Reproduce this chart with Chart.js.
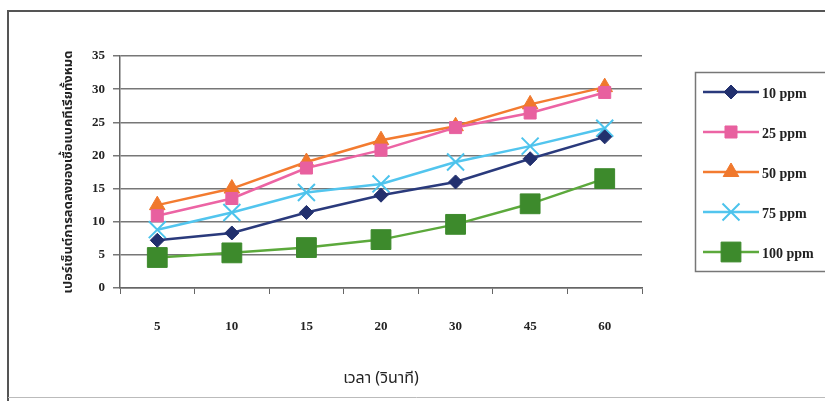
<!DOCTYPE html>
<html>
<head>
<meta charset="utf-8">
<script src="https://cdn.jsdelivr.net/npm/chart.js@4.4.1/dist/chart.umd.min.js"></script>
<style>
  html, body { margin: 0; padding: 0; background: #fff; }
  #wrap { width: 825px; height: 401px; position: relative; }
</style>
</head>
<body>
<div id="wrap"><canvas id="chart" width="825" height="401"></canvas></div>
<script>
// Data
const timeLabels = ['5', '10', '15', '20', '30', '45', '60'];
const ppm10 = [7.2, 8.3, 11.4, 14.0, 16.0, 19.5, 22.8];
const ppm25 = [10.9, 13.5, 18.1, 20.8, 24.2, 26.4, 29.5];
const ppm50 = [12.5, 15.0, 19.0, 22.3, 24.4, 27.7, 30.3];
const ppm75 = [8.8, 11.4, 14.4, 15.7, 19.0, 21.4, 24.1];
const ppm100 = [4.6, 5.3, 6.1, 7.3, 9.6, 12.7, 16.5];
const seriesNames = ['10 ppm', '25 ppm', '50 ppm', '75 ppm', '100 ppm'];

const xTitle = 'เวลา (วินาที)';
const yTitle = 'เปอร์เซ็นต์การลดลงของเชื้อแบคทีเรียทั้งหมด';

const SERIF = "'Liberation Serif', 'DejaVu Serif', serif";
const THAI = "'Noto Sans Thai', 'Noto Sans', 'DejaVu Sans', sans-serif";

function series(label, data, color, lineColor, style, radius, border) {
  return {
    label: label,
    data: data,
    borderColor: lineColor,
    backgroundColor: color,
    pointBackgroundColor: color,
    pointBorderColor: color,
    pointBorderWidth: border,
    pointStyle: style,
    pointRadius: radius,
    borderWidth: 2.5,
    tension: 0,
  };
}

const datasets = [
  series(seriesNames[0], ppm10, '#22306e', '#2a3a7c', 'rectRot', 7, 1),
  series(seriesNames[1], ppm25, '#e8609f', '#ec64a4', 'rect', 8.5, 1),
  series(seriesNames[2], ppm50, '#f0782c', '#f37b30', 'triangle', 9, 1),
  series(seriesNames[3], ppm75, '#4cc3ec', '#52c5ee', 'crossRot', 12, 2),
  series(seriesNames[4], ppm100, '#3d8a2c', '#5ca93c', 'rect', 14, 1),
];

// frame around the whole chart
const framePlugin = {
  id: 'frame',
  beforeDraw(chart) {
    const ctx = chart.ctx;
    ctx.save();
    ctx.fillStyle = '#fff';
    ctx.fillRect(0, 0, chart.width, chart.height);
    ctx.strokeStyle = '#555';
    ctx.lineWidth = 2;
    ctx.beginPath();
    ctx.moveTo(8, 401);
    ctx.lineTo(8, 11);
    ctx.lineTo(825, 11);
    ctx.stroke();
    ctx.strokeStyle = '#bbb';
    ctx.lineWidth = 1;
    ctx.beginPath();
    ctx.moveTo(8, 397.5);
    ctx.lineTo(825, 397.5);
    ctx.stroke();
    ctx.restore();
  }
};

// legend box: line with marker in the middle
const legendPlugin = {
  id: 'lineLegend',
  afterDraw(chart) {
    const ctx = chart.ctx;
    ctx.save();
    ctx.strokeStyle = '#777';
    ctx.lineWidth = 1.5;
    ctx.strokeRect(695.5, 72.5, 140, 199);
    chart.data.datasets.forEach((ds, i) => {
      const y = 92 + i * 40;
      ctx.strokeStyle = ds.borderColor;
      ctx.lineWidth = 2.5;
      ctx.beginPath();
      ctx.moveTo(703, y);
      ctx.lineTo(759, y);
      ctx.stroke();
      ctx.fillStyle = ds.pointBackgroundColor;
      ctx.strokeStyle = ds.pointBorderColor;
      ctx.lineWidth = ds.pointBorderWidth;
      Chart.helpers.drawPoint(ctx, { pointStyle: ds.pointStyle, radius: ds.pointRadius, rotation: 0, borderWidth: ds.pointBorderWidth }, 731, y);
      ctx.fillStyle = '#222';
      ctx.font = "bold 14px " + SERIF;
      ctx.textAlign = 'left';
      ctx.textBaseline = 'middle';
      ctx.fillText(ds.label, 762, y + 2);
    });
    ctx.restore();
  }
};

const chart = new Chart(document.getElementById('chart'), {
  type: 'line',
  data: { labels: timeLabels, datasets: datasets },
  options: {
    responsive: false,
    animation: false,
    layout: { padding: { left: 62, right: 183, top: 56, bottom: 12 } },
    plugins: {
      legend: { display: false },
      tooltip: { enabled: false },
    },
    scales: {
      x: {
        offset: true,
        grid: {
          offset: true,
          drawOnChartArea: false,
          color: '#666',
          tickLength: 6,
          tickColor: '#666',
        },
        border: { color: '#666', width: 1.5 },
        ticks: {
          color: '#222',
          padding: 25,
          font: { family: SERIF, size: 13, weight: 'bold' },
          maxRotation: 0,
        },
        title: {
          display: true,
          text: xTitle,
          color: '#222',
          font: { family: THAI, size: 16 },
          padding: { top: 0, bottom: 0 },
        },
        afterFit(scale) { scale.height = 401 - 288 - 12; },
      },
      y: {
        min: 0,
        max: 35,
        grid: {
          color: '#777',
          lineWidth: 1.5,
          tickLength: 7,
          tickColor: '#777',
        },
        border: { color: '#666', width: 1.5 },
        ticks: {
          stepSize: 5,
          color: '#222',
          padding: 8,
          font: { family: SERIF, size: 13, weight: 'bold' },
        },
        title: {
          display: true,
          text: yTitle,
          color: '#222',
          font: { family: THAI, size: 13, weight: 'bold' },
          padding: { top: 0, bottom: 0 },
        },
        afterFit(scale) { scale.width = 120 - 62; },
      },
    },
  },
  plugins: [framePlugin, legendPlugin],
});
</script>
</body>
</html>
